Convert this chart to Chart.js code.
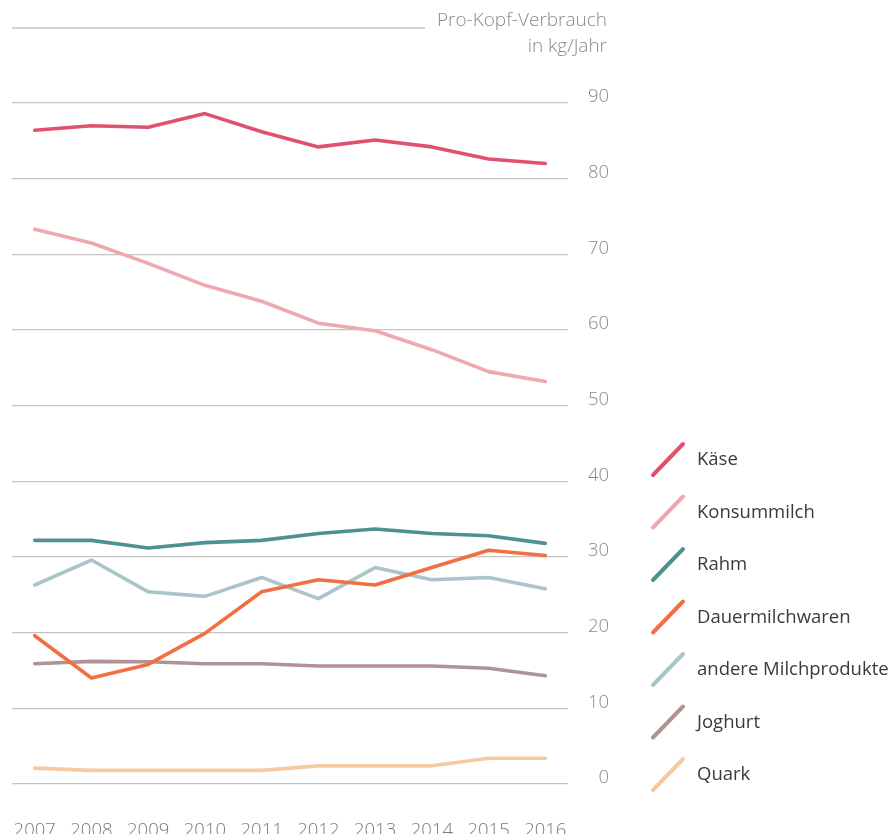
<!DOCTYPE html>
<html>
<head>
<meta charset="utf-8">
<script src="https://cdn.jsdelivr.net/npm/chart.js@4"></script>
<style>
  html, body { margin: 0; padding: 0; background: #fff; }
  #wrap { position: relative; width: 891px; height: 840px; }
</style>
</head>
<body>
<div id="wrap"><canvas id="milkChart" width="891" height="840"></canvas></div>
<script>
// Pro-Kopf-Verbrauch Milchprodukte 2007-2016
const years = [2007, 2008, 2009, 2010, 2011, 2012, 2013, 2014, 2015, 2016];
const yTicks = [0, 10, 20, 30, 40, 50, 60, 70, 80, 90];
const titleLines = ["Pro-Kopf-Verbrauch", "in kg/Jahr"];

const kaese = [86.4, 87.0, 86.8, 88.6, 86.2, 84.2, 85.1, 84.2, 82.6, 82.0];
const konsummilch = [73.3, 71.5, 68.8, 65.9, 63.8, 60.9, 59.9, 57.4, 54.5, 53.2];
const rahm = [32.2, 32.2, 31.2, 31.9, 32.2, 33.1, 33.7, 33.1, 32.8, 31.8];
const dauermilchwaren = [19.6, 14.0, 15.8, 19.9, 25.4, 27.0, 26.3, 28.6, 30.9, 30.2];
const andere = [26.3, 29.6, 25.4, 24.8, 27.3, 24.5, 28.6, 27.0, 27.3, 25.8];
const joghurt = [15.9, 16.2, 16.15, 15.9, 15.9, 15.6, 15.6, 15.6, 15.3, 14.3];
const quark = [2.1, 1.8, 1.8, 1.8, 1.8, 2.4, 2.4, 2.4, 3.4, 3.4];

const FONT = '"Open Sans", "Noto Sans", sans-serif';

function series(label, values, color) {
  return {
    label: label,
    data: values.map((v, i) => ({ x: years[i], y: v })),
    borderColor: color,
    backgroundColor: color,
    borderWidth: 3.6,
    borderCapStyle: "round",
    borderJoinStyle: "round",
    pointRadius: 0,
    tension: 0,
    fill: false
  };
}

const decor = {
  id: "decor",
  afterDraw(chart) {
    const ctx = chart.ctx;
    const area = chart.chartArea;
    ctx.save();
    // top rule and unit title
    ctx.strokeStyle = "#c4c4c4";
    ctx.lineWidth = 1.3;
    ctx.beginPath();
    ctx.moveTo(area.left, 28);
    ctx.lineTo(425, 28);
    ctx.stroke();
    ctx.fillStyle = "#8a8a8a";
    ctx.font = "300 19px " + FONT;
    ctx.textAlign = "right";
    ctx.textBaseline = "middle";
    ctx.fillText(titleLines[0], 607, 21);
    ctx.fillText(titleLines[1], 607, 47);
    // legend with slanted strokes
    ctx.font = "18.5px " + FONT;
    chart.data.datasets.forEach((ds, i) => {
      const y = 460 + i * 52.5;
      ctx.strokeStyle = ds.borderColor;
      ctx.lineWidth = 4;
      ctx.lineCap = "round";
      ctx.beginPath();
      ctx.moveTo(653, y + 15);
      ctx.lineTo(683, y - 16);
      ctx.stroke();
      ctx.fillStyle = "#3a3a3a";
      ctx.textAlign = "left";
      ctx.fillText(ds.label, 697, y);
    });
    ctx.restore();
  }
};

new Chart(document.getElementById("milkChart").getContext("2d"), {
  type: "line",
  data: {
    datasets: [
      series("Käse", kaese, "#e1506f"),
      series("Konsummilch", konsummilch, "#efa8b1"),
      series("Rahm", rahm, "#4f9191"),
      series("Dauermilchwaren", dauermilchwaren, "#f26f42"),
      series("andere Milchprodukte", andere, "#a9c5c9"),
      series("Joghurt", joghurt, "#b29393"),
      series("Quark", quark, "#f6c9a1")
    ]
  },
  options: {
    responsive: false,
    animation: false,
    events: [],
    layout: { padding: { left: 12, right: 282, top: 103, bottom: 6 } },
    plugins: { legend: { display: false }, tooltip: { enabled: false } },
    scales: {
      x: {
        type: "linear",
        min: 2006.6,
        max: 2016.4,
        afterBuildTicks: (scale) => { scale.ticks = years.map(v => ({ value: v })); },
        afterFit: (scale) => { scale.height = 50; scale.paddingLeft = 0; scale.paddingRight = 0; },
        grid: { display: false },
        border: { display: false },
        ticks: {
          autoSkip: false,
          maxRotation: 0,
          padding: 28,
          color: "#7a7a7a",
          font: { family: FONT, size: 18.5, weight: 300 },
          callback: (v) => String(v)
        }
      },
      y: {
        position: "right",
        min: 0,
        max: 90,
        afterBuildTicks: (scale) => { scale.ticks = yTicks.map(v => ({ value: v })); },
        afterFit: (scale) => { scale.width = 41; scale.paddingTop = 0; scale.paddingBottom = 0; },
        grid: { color: "#c4c4c4", lineWidth: 1.3, drawTicks: false },
        border: { display: false },
        ticks: {
          padding: 0,
          labelOffset: -6,
          crossAlign: "far",
          color: "#8a8a8a",
          font: { family: FONT, size: 18.5, weight: 300 }
        }
      }
    }
  },
  plugins: [decor]
});
</script>
</body>
</html>
